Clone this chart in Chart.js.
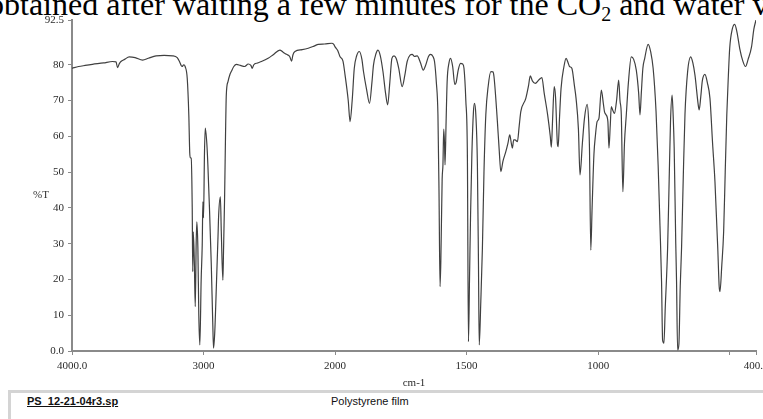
<!DOCTYPE html>
<html lang="en">
<head>
  <meta charset="utf-8">
  <title>Polystyrene film - IR</title>
  <script src="https://cdn.jsdelivr.net/npm/chart.js@4.4.0/dist/chart.umd.min.js"></script>
  <style>
    html, body { margin: 0; padding: 0; background: #fff; overflow: hidden; }
    body { width: 763px; height: 419px; position: relative; }
    #caption {
      position: absolute; left: -12px; top: -12px; white-space: nowrap; color: #000;
      font: 32px/32px 'Liberation Serif', 'Times New Roman', serif;
    }
    #caption sub { font-size: 20px; line-height: 0; vertical-align: -6px; }
    #wrap { position: absolute; left: 0; top: 0; width: 790px; height: 395px; }
    #ylab { position: absolute; left: 33px; top: 188px; font: 11px 'Liberation Serif', serif; color: #333; }
    #footer {
      position: absolute; left: 8px; top: 390px; width: 800px; height: 40px;
      border-top: 3px solid #d4d4d4; border-left: 3px solid #d4d4d4; background: #fff;
      font: 11px 'Liberation Sans', Arial, sans-serif; color: #111;
    }
    #footer .file { position: absolute; left: 16px; top: 2px; font-weight: bold; text-decoration: underline; }
    #footer .desc { position: absolute; left: 320px; top: 2px; }
  </style>
</head>
<body>
<div id="caption">obtained after waiting a few minutes for the CO<sub>2</sub> and water v</div>
<div id="wrap"><canvas id="irChart"></canvas></div>
<div id="ylab">%T</div>
<div id="footer"><span class="file">PS_12-21-04r3.sp</span><span class="desc">Polystyrene film</span></div>

<script>
// spectrum (wavenumber in cm-1, transmittance in %)
var wavenumbers = [
  4000, 3950, 3900, 3845, 3760, 3692, 3665, 3654, 3640, 3628, 3600, 3565, 3520, 3463, 3420, 3361,
  3300, 3234, 3200, 3183, 3170, 3163, 3150, 3140, 3124, 3112, 3105, 3100, 3094, 3086, 3082, 3078,
  3070, 3063, 3056, 3051, 3043, 3036, 3028, 3018, 3010, 3005, 3000, 2993, 2987, 2975, 2967, 2955,
  2941, 2930, 2924, 2915, 2903, 2890, 2885, 2872, 2865, 2853, 2848, 2840, 2833, 2827, 2814, 2800,
  2789, 2770, 2750, 2720, 2687, 2660, 2640, 2630, 2618, 2590, 2560, 2509, 2470, 2420, 2395, 2369,
  2345, 2331, 2320, 2305, 2250, 2204, 2160, 2127, 2080, 2025, 2010, 2000, 1990, 1981, 1970, 1962,
  1950, 1943, 1935, 1927, 1918, 1908, 1898, 1892, 1880, 1869, 1860, 1854, 1845, 1837, 1828, 1818,
  1808, 1800, 1792, 1784, 1776, 1768, 1758, 1745, 1735, 1726, 1715, 1707, 1698, 1688, 1675, 1665,
  1655, 1645, 1637, 1628, 1622, 1615, 1609, 1605, 1601, 1598, 1593, 1590, 1587, 1584, 1582, 1578,
  1574, 1567, 1561, 1553, 1545, 1540, 1532, 1523, 1515, 1510, 1503, 1497, 1493, 1489, 1485, 1480,
  1474, 1470, 1465, 1459, 1455, 1452, 1446, 1440, 1434, 1427, 1418, 1408, 1400, 1396, 1383, 1376,
  1370, 1362, 1351, 1343, 1336, 1330, 1326, 1321, 1316, 1307, 1300, 1294, 1275, 1265, 1258, 1250,
  1239, 1225, 1214, 1205, 1192, 1182, 1178, 1173, 1167, 1162, 1155, 1152, 1147, 1141, 1130, 1122,
  1114, 1109, 1100, 1090, 1084, 1075, 1069, 1060, 1052, 1042, 1036, 1033, 1028, 1023, 1016, 1010,
  1004, 997, 988, 980, 976, 970, 963, 959, 954, 950, 944, 938, 930, 922, 917, 912,
  906, 900, 893, 885, 874, 865, 855, 846, 841, 836, 830, 823, 810, 800, 791, 780,
  772, 765, 759, 755, 750, 745, 736, 730, 725, 719, 715, 711, 705, 702, 698, 693,
  688, 683, 676, 670, 660, 648, 640, 632, 620, 616, 610, 604, 594, 585, 575, 565,
  556, 545, 540, 537, 530, 523, 517, 511, 505, 500, 490, 481, 472, 462, 450, 440,
  430, 417, 408, 400
];
var transmittance = [
  79.0, 79.5, 79.8, 80.1, 80.5, 80.9, 80.8, 79.2, 80.3, 80.9, 81.5, 82.2, 82.0, 81.3, 81.8, 82.5,
  82.6, 82.5, 82.0, 80.9, 79.8, 79.5, 80.0, 79.5, 76.2, 66.0, 55.5, 54.0, 53.9, 40.0, 22.2, 33.3,
  25.0, 12.4, 30.0, 36.1, 28.8, 10.0, 1.7, 20.0, 29.6, 41.7, 37.2, 55.0, 62.3, 58.0, 52.0, 40.0,
  24.0, 8.0, 0.8, 5.0, 17.5, 32.0, 38.0, 43.1, 33.3, 19.8, 28.0, 42.7, 60.0, 71.5, 75.3, 77.2,
  78.1, 79.5, 80.1, 79.8, 79.5, 80.2, 79.8, 79.0, 80.0, 80.5, 80.9, 81.8, 82.8, 84.1, 83.5, 82.9,
  82.3, 81.0, 82.8, 83.7, 84.2, 84.6, 85.2, 85.7, 85.8, 86.0, 85.7, 85.0, 84.0, 82.2, 81.0, 77.1,
  70.0, 64.1, 70.0, 79.0, 82.5, 83.7, 81.5, 78.1, 73.0, 69.2, 75.0, 79.9, 83.0, 84.1, 82.5, 78.1,
  72.0, 68.8, 75.0, 81.8, 82.5, 81.8, 79.0, 73.9, 77.0, 80.9, 82.7, 82.9, 82.3, 82.5, 80.5, 78.5,
  80.0, 82.3, 82.9, 82.3, 80.9, 75.0, 66.0, 45.0, 18.0, 25.0, 48.0, 52.0, 62.0, 58.0, 52.0, 64.0,
  75.3, 80.5, 81.8, 79.5, 74.5, 75.0, 78.5, 80.4, 80.2, 79.0, 70.0, 53.9, 2.6, 20.0, 38.0, 55.0,
  66.9, 69.2, 66.0, 52.0, 25.0, 1.7, 14.0, 28.7, 50.0, 66.0, 74.0, 78.1, 78.0, 76.7, 64.1, 56.0,
  50.1, 53.0, 55.7, 58.0, 60.4, 58.0, 56.7, 59.0, 59.0, 58.5, 63.0, 66.9, 70.6, 74.0, 76.9, 75.5,
  74.8, 75.8, 76.4, 72.0, 66.0, 60.0, 57.0, 65.0, 73.9, 71.0, 58.0, 57.1, 65.0, 73.4, 79.5, 81.8,
  80.5, 79.5, 79.0, 74.0, 70.6, 62.0, 49.2, 58.0, 65.0, 68.9, 64.0, 56.7, 28.2, 40.0, 55.0, 60.5,
  64.1, 65.0, 72.9, 69.0, 66.9, 66.0, 64.1, 56.7, 63.0, 68.3, 67.2, 66.4, 70.0, 75.7, 70.0, 66.0,
  44.5, 58.0, 66.0, 75.0, 82.2, 81.5, 78.5, 72.0, 66.0, 72.0, 79.0, 81.8, 85.7, 83.5, 79.0, 67.0,
  52.0, 35.0, 19.4, 3.0, 2.2, 12.0, 28.7, 48.0, 64.1, 71.5, 66.0, 56.7, 30.0, 19.4, 0.3, 2.0,
  18.0, 28.7, 50.0, 66.0, 78.0, 82.2, 80.5, 77.1, 69.0, 67.4, 71.0, 75.5, 77.3, 75.0, 70.6, 58.0,
  47.3, 28.0, 18.0, 16.6, 24.0, 33.3, 50.0, 66.0, 77.0, 84.6, 90.0, 91.3, 89.0, 84.6, 81.0, 79.5,
  81.5, 85.0, 90.0, 92.5
];

var xTickValues = [4000, 3000, 2000, 1500, 1000, 500, 400];
var xTickLabels = ['4000.0', '3000', '2000', '1500', '1000', '', '400.0'];
var yTickValues = [0, 10, 20, 30, 40, 50, 60, 70, 80, 92.5];
var yTickLabels = ['0.0', '10', '20', '30', '40', '50', '60', '70', '80', '92.5'];

// the instrument's x axis is compressed 2:1 above 2000 cm-1
function axisPos(wn) {
  return wn >= 2000 ? (4000 - wn) / 1000 : 2 + (2000 - wn) / 500;
}

var points = [];
for (let i = 0; i < wavenumbers.length; i++) {
  points.push({ x: axisPos(wavenumbers[i]), y: transmittance[i] });
}

var tickFont = { family: "'Liberation Serif', 'Times New Roman', serif", size: 11 };
var axisGrid = { drawOnChartArea: false, drawTicks: true, tickLength: 4, color: '#8a8a8a', lineWidth: 1 };
var axisBorder = { display: true, color: '#8a8a8a', width: 2 };

var ctx = document.getElementById('irChart').getContext('2d');
var irChart = new Chart(ctx, {
  type: 'line',
  data: {
    datasets: [{
      label: '%T',
      data: points,
      borderColor: '#404040',
      borderWidth: 1.2,
      pointRadius: 0,
      cubicInterpolationMode: 'monotone',
      fill: false
    }]
  },
  options: {
    responsive: true,
    maintainAspectRatio: false,
    animation: false,
    layout: { padding: { top: 20, right: 34, left: 0, bottom: 0 } },
    plugins: { legend: { display: false }, tooltip: { enabled: false } },
    scales: {
      x: {
        type: 'linear',
        min: 0,
        max: axisPos(400),
        grid: axisGrid,
        border: axisBorder,
        ticks: {
          autoSkip: false, maxRotation: 0, padding: 5, color: '#2a2a2a', font: tickFont,
          callback: function(val, i) { return xTickLabels[i]; }
        },
        afterBuildTicks: function(axis) {
          axis.ticks = xTickValues.map(function(v) { return { value: axisPos(v) }; });
        },
        afterFit: function(axis) { axis.height = 44; },
        title: { display: true, text: 'cm-1', color: '#2a2a2a', font: tickFont, padding: { top: 2, bottom: 5 } }
      },
      y: {
        min: 0,
        max: 92.5,
        grid: axisGrid,
        border: axisBorder,
        ticks: {
          padding: 4, color: '#2a2a2a', font: tickFont,
          callback: function(val, i) { return yTickLabels[i]; }
        },
        afterBuildTicks: function(axis) {
          axis.ticks = yTickValues.map(function(v) { return { value: v }; });
        },
        afterFit: function(axis) { axis.width = 72; }
      }
    }
  }
});
</script>
</body>
</html>
